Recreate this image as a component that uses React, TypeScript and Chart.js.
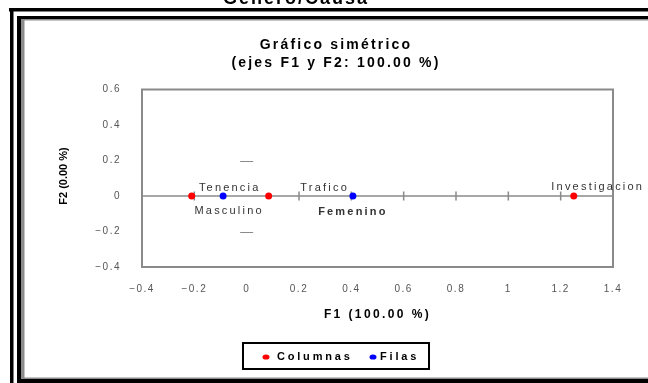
import React, { useEffect, useRef } from "react";
import { Chart, registerables } from "chart.js";

Chart.register(...registerables);

// ---- data ----
const columnLabels = ["Tenencia", "Trafico", "Investigacion"];
const columnF1 = [-0.21, 0.084, 1.25];
const columnF2 = [0, 0, 0];

const rowLabels = ["Masculino", "Femenino"];
const rowF1 = [-0.09, 0.406];
const rowF2 = [0, 0];

const seriesNames = ["Columnas", "Filas"];
const seriesColors = ["#ff0000", "#0000ff"];

const titleLines = ["Gráfico simétrico", "(ejes F1 y F2: 100.00 %)"];
const topCutText = "Genero/Causa";
const xTitle = "F1 (100.00 %)";
const yTitle = "F2 (0.00 %)";

const xMin = -0.4, xMax = 1.4, yMin = -0.4, yMax = 0.6, step = 0.2;
const yZeroDashes = [0.2, -0.2];

// label placement (pixel offsets from the point), kept apart from the data
const columnLabelOffsets = [[38, -8], [56, -8], [24, -9]];
const rowLabelOffsets = [[6, 15], [0, 16]];
const rowLabelBold = [false, true];

const FONT = "'Liberation Sans', Arial, sans-serif";

function fmt(v: number) {
  const r = Math.round(v * 10) / 10;
  if (r === 0) return "0";
  return r < 0 ? "\u2212" + String(-r) : String(r);
}

const decor = {
  id: "decor",
  beforeDraw(chart: any) {
    const ctx = chart.ctx;
    ctx.save();
    ctx.fillStyle = "#ffffff";
    ctx.fillRect(0, 0, chart.width, chart.height);
    ctx.restore();
    ctx.letterSpacing = "1.5px";
  },
  beforeDatasetsDraw(chart: any) {
    const { ctx, chartArea: a, scales } = chart;
    const x = scales.x, y = scales.y;
    ctx.save();
    ctx.letterSpacing = "0px";
    ctx.strokeStyle = "#8a8a8a";
    ctx.lineWidth = 2;
    ctx.strokeRect(a.left, a.top, a.right - a.left, a.bottom - a.top);
    const y0 = y.getPixelForValue(0);
    ctx.lineWidth = 1.5;
    ctx.beginPath();
    ctx.moveTo(a.left, y0);
    ctx.lineTo(a.right, y0);
    ctx.stroke();
    for (const t of x.ticks) {
      const v = t.value;
      if (v <= xMin + 1e-9 || v >= xMax - 1e-9 || Math.abs(v) < 1e-9) continue;
      const px = x.getPixelForValue(v);
      ctx.beginPath();
      ctx.moveTo(px, y0 - 4.5);
      ctx.lineTo(px, y0 + 4.5);
      ctx.stroke();
    }
    const x0 = x.getPixelForValue(0);
    ctx.lineWidth = 1;
    for (const v of yZeroDashes) {
      const py = Math.round(y.getPixelForValue(v)) + 0.5;
      ctx.beginPath();
      ctx.moveTo(x0 - 6.5, py);
      ctx.lineTo(x0 + 6.5, py);
      ctx.stroke();
    }
    ctx.restore();
  },
  afterDatasetsDraw(chart: any) {
    const { ctx, scales } = chart;
    const x = scales.x, y = scales.y;
    ctx.save();
    ctx.fillStyle = "#333333";
    ctx.textAlign = "center";
    ctx.textBaseline = "middle";
    ctx.letterSpacing = "2.2px";
    columnLabels.forEach((lab, i) => {
      ctx.font = `11px ${FONT}`;
      const px = x.getPixelForValue(columnF1[i]) + columnLabelOffsets[i][0];
      const py = y.getPixelForValue(columnF2[i]) + columnLabelOffsets[i][1];
      ctx.fillText(lab, px, py);
    });
    rowLabels.forEach((lab, i) => {
      ctx.font = `${rowLabelBold[i] ? "bold " : ""}11px ${FONT}`;
      const px = x.getPixelForValue(rowF1[i]) + rowLabelOffsets[i][0];
      const py = y.getPixelForValue(rowF2[i]) + rowLabelOffsets[i][1];
      ctx.fillText(lab, px, py);
    });
    ctx.restore();
  },
  afterDraw(chart: any) {
    const { ctx, chartArea: a } = chart;
    ctx.save();
    ctx.fillStyle = "#000000";
    ctx.textAlign = "center";
    // cut-off heading at very top
    ctx.textBaseline = "alphabetic";
    ctx.font = `bold 18px ${FONT}`;
    ctx.letterSpacing = "2px";
    ctx.fillText(topCutText, 296, 4);
    // chart title
    ctx.textBaseline = "middle";
    ctx.font = `bold 14px ${FONT}`;
    ctx.letterSpacing = "2.2px";
    ctx.fillText(titleLines[0], 336, 45);
    ctx.fillText(titleLines[1], 336, 63);
    // x title
    ctx.font = `bold 12px ${FONT}`;
    ctx.letterSpacing = "2.4px";
    ctx.fillText(xTitle, (a.left + a.right) / 2, 315);
    // y title
    ctx.save();
    ctx.translate(64, 176);
    ctx.rotate(-Math.PI / 2);
    ctx.font = `bold 11px ${FONT}`;
    ctx.letterSpacing = "0px";
    ctx.fillText(yTitle, 0, 0);
    ctx.restore();
    // legend
    ctx.strokeStyle = "#000000";
    ctx.lineWidth = 2;
    ctx.strokeRect(243, 343, 186, 26);
    ctx.font = `bold 11px ${FONT}`;
    ctx.letterSpacing = "2.8px";
    ctx.textAlign = "left";
    const dotX = [266, 373];
    const txtX = [277, 380];
    seriesNames.forEach((n, i) => {
      ctx.fillStyle = seriesColors[i];
      ctx.beginPath();
      ctx.ellipse(dotX[i], 357, 3.5, 2.6, 0, 0, Math.PI * 2);
      ctx.fill();
      ctx.fillStyle = "#000000";
      ctx.fillText(n, txtX[i], 357);
    });
    // double frame
    ctx.letterSpacing = "0px";
    ctx.fillStyle = "#000000";
    ctx.fillRect(9, 8, 700, 3.5);
    ctx.fillRect(10, 8, 3.5, 400);
    ctx.fillRect(17, 16, 700, 3);
    ctx.fillRect(17, 16, 4, 400);
    ctx.fillRect(17, 379, 700, 5);
    ctx.fillStyle = "#8c8c8c";
    ctx.fillRect(21, 19, 700, 1.5);
    ctx.fillRect(21, 19, 3.5, 360);
    ctx.fillRect(21, 377.5, 700, 1.5);
    ctx.restore();
  },
};

export default function App() {
  const ref = useRef<HTMLCanvasElement | null>(null);
  useEffect(() => {
    if (!ref.current) return;
    const chart = new Chart(ref.current, {
      type: "scatter",
      data: {
        datasets: [
          {
            label: seriesNames[0],
            data: columnF1.map((v, i) => ({ x: v, y: columnF2[i] })),
            backgroundColor: seriesColors[0],
            borderColor: seriesColors[0],
            pointRadius: 3.5,
            pointBorderWidth: 0,
          },
          {
            label: seriesNames[1],
            data: rowF1.map((v, i) => ({ x: v, y: rowF2[i] })),
            backgroundColor: seriesColors[1],
            borderColor: seriesColors[1],
            pointRadius: 3.5,
            pointBorderWidth: 0,
          },
        ],
      },
      options: {
        responsive: false,
        animation: false,
        devicePixelRatio: 1,
        layout: { autoPadding: false, padding: { top: 89.5, right: 35, bottom: 0, left: 0 } },
        plugins: { legend: { display: false }, title: { display: false }, tooltip: { enabled: false } },
        scales: {
          x: {
            type: "linear",
            min: xMin,
            max: xMax,
            grid: { display: false, drawTicks: false },
            border: { display: false },
            ticks: {
              stepSize: step,
              padding: 16,
              color: "#555555",
              font: { size: 10, family: FONT },
              maxRotation: 0,
              callback: (v: any) => fmt(Number(v)),
            },
            afterFit: (s: any) => {
              s.height = 116;
              s.paddingLeft = 0;
              s.paddingRight = 0;
            },
          },
          y: {
            type: "linear",
            min: yMin,
            max: yMax,
            grid: { display: false, drawTicks: false },
            border: { display: false },
            ticks: {
              stepSize: step,
              padding: 21,
              color: "#555555",
              font: { size: 10, family: FONT },
              callback: (v: any) => fmt(Number(v)),
            },
            afterFit: (s: any) => {
              s.width = 142;
              s.paddingTop = 0;
              s.paddingBottom = 0;
            },
          },
        },
      },
      plugins: [decor],
    } as any);
    return () => chart.destroy();
  }, []);
  return (
    <canvas
      ref={ref}
      width={648}
      height={383}
      style={{ position: "fixed", left: 0, top: 0, width: 648, height: 383 }}
    />
  );
}
